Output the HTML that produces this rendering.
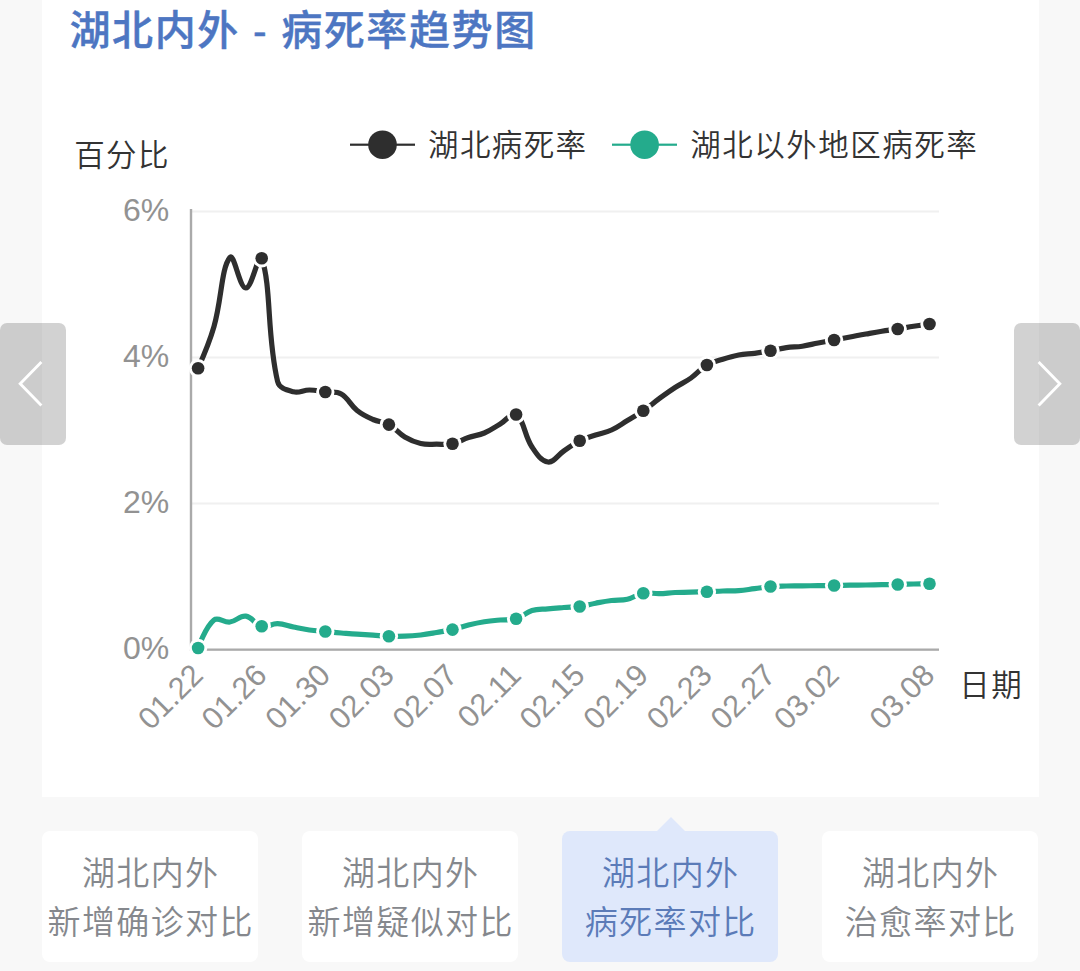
<!DOCTYPE html>
<html lang="zh-CN">
<head>
<meta charset="utf-8">
<title>湖北内外 - 病死率趋势图</title>
<style>
html,body{margin:0;padding:0;}
body{width:1080px;height:971px;overflow:hidden;background:#f8f8f8;position:relative;
 font-family:"Liberation Sans","Noto Sans CJK SC",sans-serif;}
.card{position:absolute;left:41.5px;top:0;width:997px;height:797px;background:#fff;}
.title{position:absolute;left:69.5px;top:11px;margin:0;font-size:41px;line-height:1;font-weight:500;color:#4d76c2;white-space:nowrap;letter-spacing:1.6px;-webkit-text-stroke:0.4px #4d76c2;}
svg.chart{position:absolute;left:0;top:0;width:1080px;height:800px;}
svg.chart text{font-family:"Liberation Sans","Noto Sans CJK SC",sans-serif;}
.ax text{font-size:32px;fill:#929292;}
.cn text{font-size:30.5px;fill:#333333;font-weight:350;letter-spacing:1.4px;}
.nav{position:absolute;top:323px;width:66px;height:122px;border-radius:7px;background:rgba(0,0,0,0.175);}
.nav.l{left:0;} .nav.r{left:1014px;}
.nav svg{position:absolute;left:0;top:0;width:66px;height:122px;}
.tabs{position:absolute;left:42px;top:831px;width:996px;height:131px;}
.tab{position:absolute;top:0;width:216px;height:131px;border-radius:8px;background:#fff;color:#85888d;
 font-size:33px;line-height:49px;text-align:center;font-weight:350;box-sizing:border-box;padding-top:18px;white-space:nowrap;letter-spacing:1.4px;padding-left:1.4px;}
.tab.on{background:#dfe8fb;color:#5b7bb8;}
.tab.on:before{content:"";position:absolute;left:95.2px;top:-14px;width:0;height:0;border-left:14px solid transparent;border-right:14px solid transparent;border-bottom:14px solid #dfe8fb;}
</style>
</head>
<body>
<div class="card"></div>
<h1 class="title">湖北内外 - 病死率趋势图</h1>
<svg class="chart" viewBox="0 0 1080 800">
 <g class="grid"><rect x="191" y="210.5" width="748" height="2" fill="#f0f0f0"/><rect x="191" y="356.5" width="748" height="2" fill="#f0f0f0"/><rect x="191" y="502.5" width="748" height="2" fill="#f0f0f0"/></g>
 <rect x="189.8" y="209" width="2.4" height="441.8" fill="#aaaaaa"/>
 <rect x="189.8" y="648.5" width="749.2" height="2.3" fill="#aaaaaa"/>
 <g class="ax"><text x="169.3" y="221.3" text-anchor="end">6%</text><text x="169.3" y="367.3" text-anchor="end">4%</text><text x="169.3" y="513.3" text-anchor="end">2%</text><text x="169.3" y="659.3" text-anchor="end">0%</text><text transform="translate(204.9 677.0) rotate(-45)" text-anchor="end" style="font-size:30.6px">01.22</text><text transform="translate(268.5 677.0) rotate(-45)" text-anchor="end" style="font-size:30.6px">01.26</text><text transform="translate(332.1 677.0) rotate(-45)" text-anchor="end" style="font-size:30.6px">01.30</text><text transform="translate(395.7 677.0) rotate(-45)" text-anchor="end" style="font-size:30.6px">02.03</text><text transform="translate(459.3 677.0) rotate(-45)" text-anchor="end" style="font-size:30.6px">02.07</text><text transform="translate(522.9 677.0) rotate(-45)" text-anchor="end" style="font-size:30.6px">02.11</text><text transform="translate(586.5 677.0) rotate(-45)" text-anchor="end" style="font-size:30.6px">02.15</text><text transform="translate(650.1 677.0) rotate(-45)" text-anchor="end" style="font-size:30.6px">02.19</text><text transform="translate(713.7 677.0) rotate(-45)" text-anchor="end" style="font-size:30.6px">02.23</text><text transform="translate(777.3 677.0) rotate(-45)" text-anchor="end" style="font-size:30.6px">02.27</text><text transform="translate(840.9 677.0) rotate(-45)" text-anchor="end" style="font-size:30.6px">03.02</text><text transform="translate(936.3 677.0) rotate(-45)" text-anchor="end" style="font-size:30.6px">03.08</text></g>
 <g class="cn">
  <text x="74.2" y="166">百分比</text>
  <text x="959.3" y="695.5">日期</text>
  <text x="428" y="156">湖北病死率</text>
  <text x="690.2" y="156" style="letter-spacing:1.5px">湖北以外地区病死率</text>
 </g>
 <g class="legend">
  <rect x="350" y="143.6" width="65" height="2.2" fill="#2e2e2e"/><circle cx="382.5" cy="144.7" r="14.3" fill="#2e2e2e"/>
  <rect x="612" y="143.6" width="65" height="2.2" fill="#24ab8c"/><circle cx="644.6" cy="144.7" r="14.3" fill="#24ab8c"/>
 </g>
 <path d="M198.1 368.2C198.1 368.2 209.1 343.6 214.0 326.5C221.8 299.3 221.3 267.9 229.9 257.5C234.1 252.5 239.4 287.9 245.8 288.0C252.1 288.1 259.0 250.2 261.7 258.2C271.7 287.6 266.6 335.1 277.6 381.5C279.3 388.6 286.6 390.0 293.5 391.8C299.3 393.4 303.0 390.0 309.4 390.0C315.8 390.0 318.9 391.2 325.3 392.0C331.7 392.8 336.0 391.0 341.2 394.0C348.7 398.4 350.0 404.8 357.1 410.5C362.7 415.0 366.4 416.6 373.0 419.5C379.1 422.2 383.1 421.4 388.9 424.6C395.9 428.4 397.9 432.9 404.8 437.0C410.7 440.5 414.1 442.0 420.7 443.5C426.8 444.9 430.2 444.2 436.6 444.2C443.0 444.2 446.4 445.0 452.5 443.7C459.1 442.3 461.9 439.7 468.4 437.5C474.7 435.4 478.3 435.6 484.3 433.0C491.0 430.2 493.9 427.7 500.2 424.0C506.6 420.3 511.8 411.4 516.1 414.5C524.5 420.6 524.1 435.2 532.0 447.0C536.8 454.2 541.2 461.2 547.9 462.0C553.9 462.8 557.4 455.3 563.8 451.0C570.1 446.8 573.0 444.1 579.7 440.7C585.7 437.7 589.2 437.2 595.6 435.0C601.9 432.9 605.5 432.7 611.5 430.0C618.2 426.9 621.1 424.3 627.4 420.5C633.8 416.6 637.2 415.0 643.3 410.8C649.9 406.3 652.8 403.4 659.2 398.7C665.5 394.1 668.6 391.7 675.1 387.5C681.3 383.5 685.0 382.3 691.0 378.0C697.7 373.3 699.9 369.1 706.9 365.0C712.6 361.6 716.3 361.2 722.8 359.2C729.1 357.2 732.3 356.2 738.7 355.0C745.0 353.8 748.3 354.1 754.6 353.3C761.0 352.5 764.2 351.9 770.5 350.8C776.9 349.7 780.0 348.5 786.4 347.6C792.7 346.7 796.0 347.1 802.3 346.2C808.7 345.3 811.8 344.2 818.2 343.0C824.6 341.8 827.7 341.2 834.1 340.0C840.5 338.8 843.6 338.2 850.0 337.0C856.4 335.8 859.5 335.1 865.9 334.0C872.2 332.9 875.4 332.3 881.8 331.3C888.1 330.3 891.4 330.0 897.7 329.0C904.1 328.0 907.2 327.3 913.6 326.3C919.9 325.3 929.5 324.0 929.5 324.0" fill="none" stroke="#2e2e2e" stroke-width="5.2" stroke-linecap="round" stroke-linejoin="round"/>
 <g><circle cx="198.1" cy="368.2" r="9.2" fill="#fff"/><circle cx="198.1" cy="368.2" r="6.3" fill="#2e2e2e"/><circle cx="261.7" cy="258.2" r="9.2" fill="#fff"/><circle cx="261.7" cy="258.2" r="6.3" fill="#2e2e2e"/><circle cx="325.3" cy="392.0" r="9.2" fill="#fff"/><circle cx="325.3" cy="392.0" r="6.3" fill="#2e2e2e"/><circle cx="388.9" cy="424.6" r="9.2" fill="#fff"/><circle cx="388.9" cy="424.6" r="6.3" fill="#2e2e2e"/><circle cx="452.5" cy="443.7" r="9.2" fill="#fff"/><circle cx="452.5" cy="443.7" r="6.3" fill="#2e2e2e"/><circle cx="516.1" cy="414.5" r="9.2" fill="#fff"/><circle cx="516.1" cy="414.5" r="6.3" fill="#2e2e2e"/><circle cx="579.7" cy="440.7" r="9.2" fill="#fff"/><circle cx="579.7" cy="440.7" r="6.3" fill="#2e2e2e"/><circle cx="643.3" cy="410.8" r="9.2" fill="#fff"/><circle cx="643.3" cy="410.8" r="6.3" fill="#2e2e2e"/><circle cx="706.9" cy="365.0" r="9.2" fill="#fff"/><circle cx="706.9" cy="365.0" r="6.3" fill="#2e2e2e"/><circle cx="770.5" cy="350.8" r="9.2" fill="#fff"/><circle cx="770.5" cy="350.8" r="6.3" fill="#2e2e2e"/><circle cx="834.1" cy="340.0" r="9.2" fill="#fff"/><circle cx="834.1" cy="340.0" r="6.3" fill="#2e2e2e"/><circle cx="897.7" cy="329.0" r="9.2" fill="#fff"/><circle cx="897.7" cy="329.0" r="6.3" fill="#2e2e2e"/><circle cx="929.5" cy="324.0" r="9.2" fill="#fff"/><circle cx="929.5" cy="324.0" r="6.3" fill="#2e2e2e"/></g>
 <path d="M198.1 648.0C198.1 648.0 205.5 626.9 214.0 620.0C218.2 616.5 223.7 622.7 229.9 622.0C236.4 621.2 239.8 615.4 245.8 616.2C252.5 617.1 254.8 624.6 261.7 626.2C267.6 627.6 271.3 623.5 277.6 623.7C284.0 623.9 287.1 625.7 293.5 627.0C299.8 628.3 303.0 629.1 309.4 630.0C315.7 630.9 318.9 630.9 325.3 631.5C331.7 632.1 334.8 632.5 341.2 633.0C347.6 633.5 350.7 633.8 357.1 634.2C363.5 634.6 366.6 634.8 373.0 635.2C379.4 635.6 382.5 636.0 388.9 636.2C395.3 636.4 398.4 636.4 404.8 636.2C411.2 636.0 414.4 635.7 420.7 635.0C427.1 634.3 430.3 633.6 436.6 632.5C443.0 631.4 446.2 631.1 452.5 629.6C458.9 628.1 462.0 626.6 468.4 625.0C474.7 623.5 477.9 622.8 484.3 621.8C490.6 620.8 493.8 620.6 500.2 620.0C506.6 619.4 510.1 620.5 516.1 618.7C522.8 616.7 525.3 612.6 532.0 610.5C538.0 608.6 541.5 609.4 547.9 608.8C554.3 608.2 557.4 608.0 563.8 607.5C570.2 607.0 573.4 607.4 579.7 606.5C586.1 605.6 589.2 604.4 595.6 603.2C601.9 602.0 605.1 601.3 611.5 600.5C617.8 599.7 621.2 600.6 627.4 599.2C634.0 597.7 636.7 594.3 643.3 593.2C649.4 592.1 652.8 593.8 659.2 593.7C665.6 593.6 668.7 592.8 675.1 592.5C681.5 592.2 684.6 592.4 691.0 592.2C697.4 592.0 700.5 591.9 706.9 591.7C713.3 591.5 716.4 591.2 722.8 591.0C729.2 590.8 732.4 591.2 738.7 590.7C745.1 590.2 748.2 589.5 754.6 588.7C761.0 587.9 764.1 587.0 770.5 586.5C776.8 586.0 780.0 586.1 786.4 586.0C792.8 585.9 795.9 585.9 802.3 585.8C808.7 585.7 811.8 585.8 818.2 585.7C824.6 585.6 827.7 585.6 834.1 585.5C840.5 585.4 843.6 585.3 850.0 585.2C856.4 585.1 859.5 585.1 865.9 585.0C872.3 584.9 875.4 584.8 881.8 584.7C888.2 584.6 891.3 584.6 897.7 584.5C904.1 584.4 907.2 584.2 913.6 584.0C920.0 583.8 929.5 583.7 929.5 583.7" fill="none" stroke="#24ab8c" stroke-width="5.2" stroke-linecap="round" stroke-linejoin="round"/>
 <g><circle cx="198.1" cy="648.0" r="9.2" fill="#fff"/><circle cx="198.1" cy="648.0" r="6.3" fill="#24ab8c"/><circle cx="261.7" cy="626.2" r="9.2" fill="#fff"/><circle cx="261.7" cy="626.2" r="6.3" fill="#24ab8c"/><circle cx="325.3" cy="631.5" r="9.2" fill="#fff"/><circle cx="325.3" cy="631.5" r="6.3" fill="#24ab8c"/><circle cx="388.9" cy="636.2" r="9.2" fill="#fff"/><circle cx="388.9" cy="636.2" r="6.3" fill="#24ab8c"/><circle cx="452.5" cy="629.6" r="9.2" fill="#fff"/><circle cx="452.5" cy="629.6" r="6.3" fill="#24ab8c"/><circle cx="516.1" cy="618.7" r="9.2" fill="#fff"/><circle cx="516.1" cy="618.7" r="6.3" fill="#24ab8c"/><circle cx="579.7" cy="606.5" r="9.2" fill="#fff"/><circle cx="579.7" cy="606.5" r="6.3" fill="#24ab8c"/><circle cx="643.3" cy="593.2" r="9.2" fill="#fff"/><circle cx="643.3" cy="593.2" r="6.3" fill="#24ab8c"/><circle cx="706.9" cy="591.7" r="9.2" fill="#fff"/><circle cx="706.9" cy="591.7" r="6.3" fill="#24ab8c"/><circle cx="770.5" cy="586.5" r="9.2" fill="#fff"/><circle cx="770.5" cy="586.5" r="6.3" fill="#24ab8c"/><circle cx="834.1" cy="585.5" r="9.2" fill="#fff"/><circle cx="834.1" cy="585.5" r="6.3" fill="#24ab8c"/><circle cx="897.7" cy="584.5" r="9.2" fill="#fff"/><circle cx="897.7" cy="584.5" r="6.3" fill="#24ab8c"/><circle cx="929.5" cy="583.7" r="9.2" fill="#fff"/><circle cx="929.5" cy="583.7" r="6.3" fill="#24ab8c"/></g>
</svg>
<div class="nav l"><svg viewBox="0 0 66 122"><polyline points="41.4,39 20.2,60.7 41.4,82.4" fill="none" stroke="#fff" stroke-width="2.9" stroke-linecap="butt" stroke-linejoin="miter"/></svg></div>
<div class="nav r"><svg viewBox="0 0 66 122"><polyline points="24.6,39 45.8,60.7 24.6,82.4" fill="none" stroke="#fff" stroke-width="2.9" stroke-linecap="butt" stroke-linejoin="miter"/></svg></div>
<div class="tabs">
 <div class="tab" style="left:0px">湖北内外<br>新增确诊对比</div>
 <div class="tab" style="left:260px">湖北内外<br>新增疑似对比</div>
 <div class="tab on" style="left:520px">湖北内外<br>病死率对比</div>
 <div class="tab" style="left:780px">湖北内外<br>治愈率对比</div>
</div>
</body>
</html>
